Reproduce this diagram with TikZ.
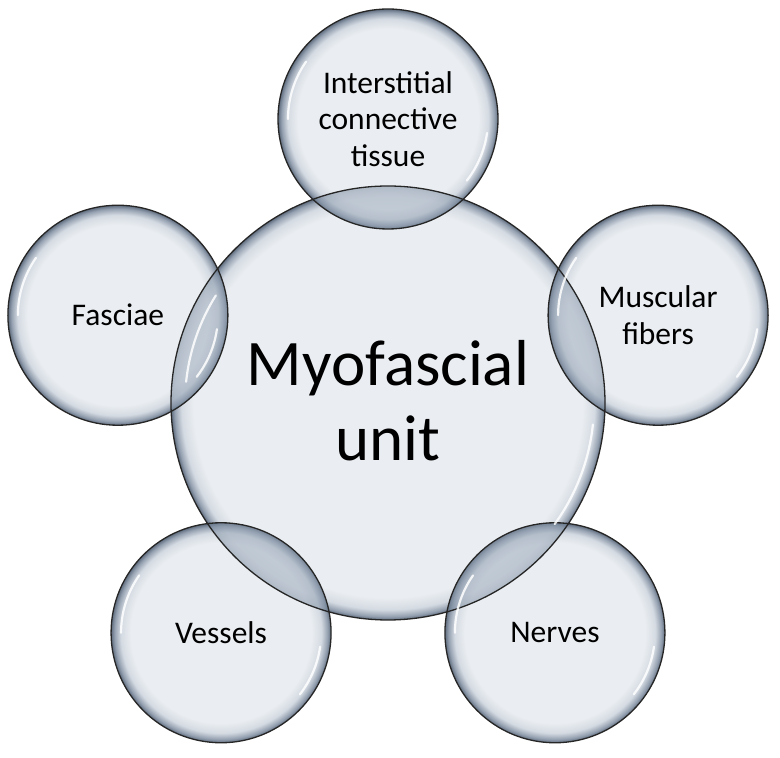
\documentclass[tikz,border=0pt]{standalone}
\usepackage{fontspec}
\setmainfont{Carlito}
\usetikzlibrary{calc}
\definecolor{bin}{HTML}{E3E8ED}
\definecolor{bone}{HTML}{C6CED8}
\definecolor{btwo}{HTML}{718196}
\definecolor{bedge}{HTML}{2A3C54}
\definecolor{lensc}{HTML}{97A5B6}
\pgfdeclareradialshading{bubblesmall}{\pgfpoint{0bp}{0bp}}{color(0bp)=(bin); color(20.5bp)=(bin); color(22.8bp)=(bone); color(24.2bp)=(btwo); color(25bp)=(bedge); color(50bp)=(bedge)}
\pgfdeclareradialshading{bubblebig}{\pgfpoint{0bp}{0bp}}{color(0bp)=(bin); color(22.4bp)=(bin); color(23.8bp)=(bone); color(24.6bp)=(btwo); color(25bp)=(bedge); color(50bp)=(bedge)}
\tikzset{
  bub/.style={circle, inner sep=0pt, outer sep=0pt, minimum size=#1, fill opacity=0.75, draw=none},
  rim/.style={draw=black!85, line width=1.3pt},
  lens/.style={fill=lensc, fill opacity=0.45},
  hl/.style={draw=white, line width=2.2pt, line cap=round, opacity=0.85},
  lbl/.style={align=center, font=\fontsize{31.5}{36.5}\selectfont, text=black},
  mainlbl/.style={align=center, font=\fontsize{65}{75}\selectfont, text=black}
}
\begin{document}
\begin{tikzpicture}[x=1pt,y=1pt]
\useasboundingbox (0,0) rectangle (780,758);
\coordinate (C) at (388,355);
% shaded bubbles
\node[bub=434, shading=bubblebig] (mainB) at (C) {};
\node[bub=220, shading=bubblesmall] (topB) at ($(C)+(90:284)$) {};
\node[bub=220, shading=bubblesmall] (leftB) at ($(C)+(162:284)$) {};
\node[bub=220, shading=bubblesmall] (rightB) at ($(C)+(18:284)$) {};
\node[bub=220, shading=bubblesmall] (blB) at ($(C)+(234:284)$) {};
\node[bub=220, shading=bubblesmall] (brB) at ($(C)+(306:284)$) {};
% darker overlaps
\foreach \n in {topB,leftB,rightB,blB,brB}{
  \begin{scope}
    \clip (mainB.center) circle[radius=217];
    \fill[lens] (\n.center) circle[radius=110];
  \end{scope}
}
% outlines
\draw[rim] (mainB.center) circle[radius=217];
\foreach \n in {topB,leftB,rightB,blB,brB}{
  \draw[rim] (\n.center) circle[radius=110];
}
% highlights
\draw[hl] ([shift={(148:203)}]mainB.center) arc[start angle=148, end angle=174, radius=203];
\draw[hl] ([shift={(-36:206)}]mainB.center) arc[start angle=-36, end angle=-6, radius=206];
\foreach \n in {topB,leftB,rightB,blB,brB}{
  \draw[hl] ([shift={(145:100)}]\n.center) arc[start angle=145, end angle=180, radius=100];
  \draw[hl] ([shift={(-38:100)}]\n.center) arc[start angle=-38, end angle=-8, radius=100];
}
% labels
\node[mainlbl] (mainT) at ($(mainB.center)+(0,2)$) {Myofascial\\unit};
\node[lbl] (topT) at (topB.center) {Interstitial\\connective\\tissue};
\node[lbl] (leftT) at (leftB.center) {Fasciae};
\node[lbl] (rightT) at (rightB.center) {Muscular\\fibers};
\node[lbl] (blT) at (blB.center) {Vessels};
\node[lbl] (brT) at (brB.center) {Nerves};
\end{tikzpicture}
\end{document}
